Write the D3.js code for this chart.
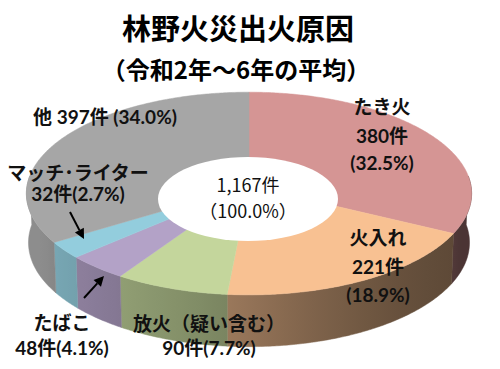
<!DOCTYPE html>
<html>
<head>
<meta charset="utf-8">
<script src="https://cdn.jsdelivr.net/npm/d3@7"></script>
<style>
  body { margin: 0; background: #fff; }
  svg { display: block; }
</style>
</head>
<body>
<svg id="chart" width="500" height="369"></svg>
<script>
// data
const causes = ["たき火", "火入れ", "放火（疑い含む）", "たばこ", "マッチ･ライター", "他"];
const counts = [380, 221, 90, 48, 32, 397];
const shares = [32.5, 18.9, 7.7, 4.1, 2.7, 34.0];
const totalCount = "1,167";
const totalShare = "100.0";

const palette = ["#d59594", "#f8c192", "#c4d69c", "#b3a2c7", "#93cddd", "#a6a6a6"];

const W = 500, H = 369;
const cx = 249, cy = 186, R = 222;
const tilt = 27 * Math.PI / 180, camDist = 12, depth = 0.25;

const svg = d3.select("#chart");
const defs = svg.append("defs");

const rows = causes.map((c, i) => ({ cause: c, count: counts[i], share: shares[i], i: i }));
const color = d3.scaleOrdinal().domain(causes).range(palette);

const pie = d3.pie().value(d => d.share).sort(null);
const arcs = pie(rows);

const sx = d3.scaleLinear().domain([0, 1]).range([cx, cx + R]);
const sy = d3.scaleLinear().domain([0, 1]).range([cy, cy - R]);

// 3d projection of a point on the disc, theta clockwise from top
function proj(theta, r, y) {
  const X = r * Math.sin(theta), Z = -r * Math.cos(theta);
  const up = y * Math.cos(tilt) - Z * Math.sin(tilt);
  const d = y * Math.sin(tilt) + Z * Math.cos(tilt);
  const s = camDist / (camDist - d);
  return [sx(X * s), sy(up * s)];
}

function angles(a0, a1, step) {
  const a = d3.range(a0, a1, step);
  a.push(a1);
  return a;
}

// darker on the right, lighter on the left
function shade(cause, t) {
  const k = 0.35 + 0.5 * (1 - Math.sin(t)) / 2;
  return d3.interpolateRgb("#000", color(cause))(k);
}

const line = d3.line();

// side walls (front half only)
const lo = Math.PI / 2 - 0.1, hi = 3 * Math.PI / 2 + 0.1;
const sides = [];
arcs.forEach(a => {
  const b0 = Math.max(a.startAngle, lo), b1 = Math.min(a.endAngle, hi);
  if (b1 > b0) sides.push({ b0: b0, b1: b1, d: a.data });
});

sides.forEach((s, j) => {
  const x0 = proj(s.b0, 1, 0)[0], x1 = proj(s.b1, 1, 0)[0];
  const g = defs.append("linearGradient")
    .attr("id", "side" + j)
    .attr("gradientUnits", "userSpaceOnUse")
    .attr("x1", x0).attr("x2", x1).attr("y1", 0).attr("y2", 0);
  d3.range(0, 1.0001, 0.125).forEach(f => {
    g.append("stop").attr("offset", f).attr("stop-color", shade(s.d.cause, s.b0 + (s.b1 - s.b0) * f));
  });
});

svg.append("g").selectAll("path")
  .data(sides)
  .join("path")
  .attr("d", s => {
    const t = angles(s.b0, s.b1, 0.01);
    const top = t.map(a => proj(a, 1, 0));
    const bot = t.slice().reverse().map(a => proj(a, 1, -depth));
    return line(top.concat(bot)) + "Z";
  })
  .attr("fill", (s, j) => "url(#side" + j + ")")
  .attr("stroke", (s, j) => "url(#side" + j + ")")
  .attr("stroke-width", 0.5);

// top faces
svg.append("g").selectAll("path")
  .data(arcs)
  .join("path")
  .attr("d", a => {
    const pts = [proj(0, 0, 0)].concat(angles(a.startAngle, a.endAngle, 0.01).map(t => proj(t, 1, 0)));
    return line(pts) + "Z";
  })
  .attr("fill", a => color(a.data.cause))
  .attr("stroke", a => color(a.data.cause))
  .attr("stroke-width", 0.5);

// hole
svg.append("ellipse")
  .attr("cx", 248).attr("cy", 199)
  .attr("rx", 90).attr("ry", 42)
  .attr("fill", "#fff");

// titles
const jp = "'Noto Sans CJK JP', sans-serif";
svg.append("text")
  .attr("x", 238).attr("y", 40)
  .attr("text-anchor", "middle")
  .style("font-family", jp).style("font-weight", 700).style("font-size", "29px")
  .text("林野火災出火原因");
svg.append("text")
  .attr("x", 236).attr("y", 79)
  .attr("text-anchor", "middle")
  .style("font-family", jp).style("font-weight", 700).style("font-size", "24px")
  .text("（令和2年～6年の平均）");

// center total
const center = svg.append("text")
  .attr("text-anchor", "middle")
  .style("font-family", jp).style("font-size", "18px").attr("fill", "#111");
center.append("tspan").attr("x", 248).attr("y", 192).text(totalCount + "件");
center.append("tspan").attr("x", 248).attr("y", 218).text("（" + totalShare + "%）");

// slice labels
function lines(d) {
  const n = d.count + "件", p = "(" + d.share.toFixed(1) + "%)";
  if (d.i <= 1) return [d.cause, n, p];
  if (d.i === 5) return [d.cause + " " + n + " " + p];
  return [d.cause, n + p];
}
const labelPos = [
  { x: 382, y: [114, 143, 170] },
  { x: 378, y: [245, 274, 302] },
  { x: 209, y: [331, 355] },
  { x: 62, y: [330, 355] },
  { x: 78, y: [180, 201] },
  { x: 105, y: [124] }
];
const labels = svg.append("g")
  .style("font-family", "Lato, 'Noto Sans CJK JP', sans-serif")
  .style("font-weight", 700).style("font-size", "19px")
  .attr("fill", "#111").attr("text-anchor", "middle");
rows.forEach(d => {
  const t = labels.append("text");
  lines(d).forEach((s, j) => {
    t.append("tspan").attr("x", labelPos[d.i].x).attr("y", labelPos[d.i].y[j]).text(s);
  });
});

// arrows to the thin slices
const arrows = [
  { from: [70, 212], to: [84, 239] },
  { from: [84, 298], to: [104, 276] }
];
arrows.forEach(a => {
  const dx = a.to[0] - a.from[0], dy = a.to[1] - a.from[1];
  const len = Math.hypot(dx, dy), ux = dx / len, uy = dy / len;
  const bx = a.to[0] - ux * 10, by = a.to[1] - uy * 10;
  svg.append("line")
    .attr("x1", a.from[0]).attr("y1", a.from[1])
    .attr("x2", bx).attr("y2", by)
    .attr("stroke", "#000").attr("stroke-width", 2);
  svg.append("path")
    .attr("d", line([a.to, [bx - uy * 5, by + ux * 5], [bx + uy * 5, by - ux * 5]]) + "Z")
    .attr("fill", "#000");
});
</script>
</body>
</html>
